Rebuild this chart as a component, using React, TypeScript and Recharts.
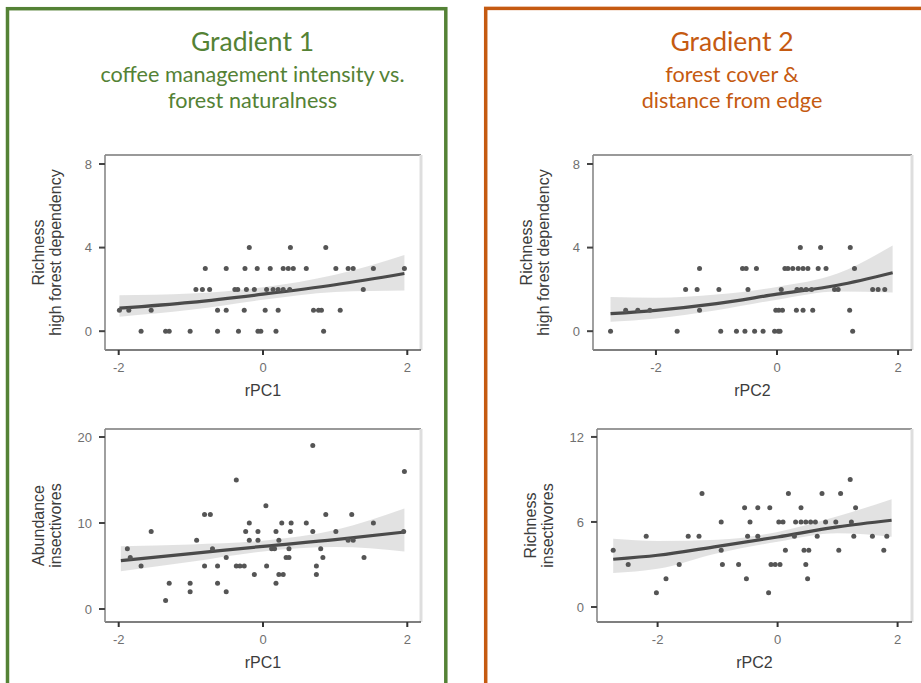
import React from 'react';
import { ComposedChart, Scatter, Line, Area, XAxis, YAxis, ReferenceLine } from 'recharts';

// ---------- Titles ----------
const gradient1Title = 'Gradient 1';
const gradient1Sub = ['coffee management intensity vs.', 'forest naturalness'];
const gradient2Title = 'Gradient 2';
const gradient2Sub = ['forest cover &', 'distance from edge'];

// ---------- Tick labels ----------
const rpcTicks = [-2, 0, 2];
const richHighTicks = [0, 4, 8];
const abundInsTicks = [0, 10, 20];
const richInsTicks = [0, 6, 12];

// ---------- Gradient 1 : Richness high forest dependency vs rPC1 ----------
const g1RichPoints: [number, number][] = [
  [-0.19, 4], [0.38, 4], [0.87, 4],
  [-0.8, 3], [-0.51, 3], [-0.25, 3], [-0.08, 3], [0.1, 3], [0.28, 3], [0.35, 3], [0.42, 3], [0.6, 3],
  [1.01, 3], [1.18, 3], [1.25, 3], [1.53, 3], [1.96, 3],
  [-0.93, 2], [-0.84, 2], [-0.74, 2], [-0.39, 2], [-0.35, 2], [-0.23, 2], [-0.12, 2], [0.05, 2],
  [0.14, 2], [0.21, 2], [0.28, 2], [0.37, 2], [1.39, 2],
  [-1.99, 1], [-1.86, 1], [-1.55, 1], [-0.63, 1], [-0.51, 1], [-0.26, 1], [0.03, 1], [0.21, 1],
  [0.7, 1], [0.77, 1], [0.81, 1], [1.07, 1],
  [-1.69, 0], [-1.35, 0], [-1.3, 0], [-1.01, 0], [-0.63, 0], [-0.34, 0], [-0.07, 0], [-0.03, 0],
  [0.18, 0], [0.84, 0],
];
const g1RichFitX = [-1.99, -1, 0, 1, 1.96];
const g1RichFit = [1.1, 1.38, 1.77, 2.22, 2.76];
const g1RichLo = [0.69, 1.02, 1.5, 1.88, 1.95];
const g1RichHi = [1.72, 1.8, 2.1, 2.7, 3.65];

// ---------- Gradient 1 : Abundance insectivores vs rPC1 ----------
const g1AbundPoints: [number, number][] = [
  [-1.88, 7], [-1.84, 6], [-1.69, 5], [-1.55, 9], [-1.35, 1], [-1.3, 3], [-1.01, 3], [-1.01, 2],
  [-0.92, 8], [-0.81, 11], [-0.73, 11], [-0.81, 5], [-0.7, 7], [-0.63, 5], [-0.63, 3], [-0.51, 2],
  [-0.51, 6], [-0.37, 15], [-0.37, 5], [-0.32, 5], [-0.26, 5], [-0.24, 9], [-0.19, 10], [-0.19, 8],
  [-0.12, 4], [-0.07, 9], [-0.07, 8], [0.04, 12], [0.05, 5], [0.12, 7], [0.16, 7], [0.18, 9],
  [0.18, 3], [0.22, 8], [0.22, 4], [0.28, 4], [0.26, 10], [0.32, 6], [0.36, 6], [0.36, 7],
  [0.38, 9], [0.39, 10], [0.6, 10], [0.69, 19], [0.69, 9], [0.74, 5], [0.74, 4], [0.8, 7],
  [0.83, 6], [0.87, 11], [1.01, 9], [1.18, 8], [1.25, 8], [1.23, 11], [1.4, 6], [1.53, 10],
  [1.96, 16], [1.95, 9],
];
const g1AbundFitX = [-1.97, -1, 0, 1, 1.96];
const g1AbundFit = [5.62, 6.43, 7.29, 8.06, 8.95];
const g1AbundLo = [4.4, 5.5, 6.7, 7.2, 6.7];
const g1AbundHi = [7.3, 7.5, 7.95, 9.2, 11.7];

// ---------- Gradient 2 : Richness high forest dependency vs rPC2 ----------
const g2RichPoints: [number, number][] = [
  [0.385, 4], [0.72, 4], [1.21, 4],
  [-1.28, 3], [-0.57, 3], [-0.51, 3], [-0.34, 3], [0.13, 3], [0.18, 3], [0.26, 3], [0.35, 3],
  [0.43, 3], [0.51, 3], [0.68, 3], [0.81, 3], [1.28, 3],
  [-1.51, 2], [-1.32, 2], [-0.96, 2], [-0.48, 2], [0.07, 2], [0.33, 2], [0.4, 2], [0.48, 2],
  [0.57, 2], [0.95, 2], [1.01, 2], [1.58, 2], [1.67, 2], [1.78, 2],
  [-2.5, 1], [-2.3, 1], [-2.1, 1], [-1.28, 1], [-0.02, 1], [0.03, 1], [0.09, 1], [0.32, 1],
  [0.43, 1], [0.59, 1], [1.2, 1],
  [-2.75, 0], [-1.65, 0], [-0.93, 0], [-0.67, 0], [-0.53, 0], [-0.37, 0], [-0.23, 0], [-0.04, 0],
  [0.02, 0], [0.05, 0], [1.25, 0],
];
const g2RichFitX = [-2.75, -2, -1, 0, 1, 1.91];
const g2RichFit = [0.84, 1.0, 1.32, 1.77, 2.2, 2.8];
const g2RichLo = [0.45, 0.61, 1.0, 1.51, 1.9, 1.85];
const g2RichHi = [1.64, 1.6, 1.75, 2.12, 2.76, 4.1];

// ---------- Gradient 2 : Richness insectivores vs rPC2 ----------
const g2InsPoints: [number, number][] = [
  [-2.74, 4], [-2.49, 3], [-2.19, 5], [-2.02, 1], [-1.86, 2], [-1.64, 3], [-1.49, 5], [-1.31, 5],
  [-1.26, 8], [-0.94, 6], [-0.94, 4], [-0.92, 3], [-0.65, 3], [-0.55, 7], [-0.52, 2], [-0.5, 5],
  [-0.46, 6], [-0.33, 7], [-0.33, 5], [-0.15, 1], [-0.13, 7], [-0.11, 3], [-0.04, 3], [0.04, 3],
  [0.02, 6], [0.09, 6], [0.13, 4], [0.18, 8], [0.28, 5], [0.3, 6], [0.39, 6], [0.47, 6],
  [0.55, 6], [0.63, 6], [0.39, 7], [0.44, 4], [0.52, 4], [0.47, 3], [0.5, 2], [0.66, 5],
  [0.74, 8], [0.8, 6], [0.97, 6], [1.02, 4], [1.05, 8], [1.21, 9], [1.23, 6], [1.27, 5],
  [1.3, 7], [1.58, 5], [1.77, 4], [1.82, 5],
];
const g2InsFitX = [-2.74, -2, -1, 0, 1, 1.9];
const g2InsFit = [3.37, 3.65, 4.28, 4.94, 5.65, 6.12];
const g2InsLo = [2.4, 2.7, 3.8, 4.6, 5.2, 4.95];
const g2InsHi = [4.82, 4.66, 4.75, 5.3, 6.4, 7.6];

const GREEN = '#548235';
const ORANGE = '#C55A11';
const FONT = '"Liberation Sans", Arial, Helvetica, sans-serif';

type PanelProps = {
  box: { x0: number; x1: number; y0: number; y1: number };
  xDomain: [number, number];
  yDomain: [number, number];
  yTicks: number[];
  points: [number, number][];
  fitX: number[];
  fit: number[];
  lo: number[];
  hi: number[];
  xLabel: string;
  yLabel: [string, string];
};

const LEFT_SPACE = 105;
const TOP_SPACE = 15;
const BOTTOM_SPACE = 62;

function Panel(p: PanelProps) {
  const { box } = p;
  const left = box.x0 - LEFT_SPACE;
  const top = box.y0 - TOP_SPACE;
  const width = box.x1 - box.x0 + LEFT_SPACE + 4;
  const height = box.y1 - box.y0 + TOP_SPACE + BOTTOM_SPACE;
  const lineData = p.fitX.map((x, i) => ({ x, fit: p.fit[i], band: [p.lo[i], p.hi[i]] }));
  const pts = p.points.map(([x, y]) => ({ x, y }));

  const yLab = (props: any) => {
    const vb = props.viewBox || {};
    const px = (vb.x ?? 0) + (vb.width ?? 0);
    const cy = (vb.y ?? 0) + (vb.height ?? 0) / 2;
    return (
      <g>
        <text x={px - 61} y={cy} transform={`rotate(-90 ${px - 61} ${cy})`} textAnchor="middle"
          fontSize={16} fill="#3c3c3c" fontFamily={FONT}>{p.yLabel[0]}</text>
        <text x={px - 44} y={cy} transform={`rotate(-90 ${px - 44} ${cy})`} textAnchor="middle"
          fontSize={16} fill="#3c3c3c" fontFamily={FONT}>{p.yLabel[1]}</text>
      </g>
    );
  };
  const xLab = (props: any) => {
    const vb = props.viewBox || {};
    const cx = (vb.x ?? 0) + (vb.width ?? 0) / 2;
    const y = (vb.y ?? 0) + 46;
    return (
      <text x={cx} y={y} textAnchor="middle" fontSize={16} fill="#3c3c3c" fontFamily={FONT}>{p.xLabel}</text>
    );
  };

  return (
    <div style={{ position: 'absolute', left, top }}>
      <ComposedChart width={width} height={height} data={lineData}
        margin={{ top: TOP_SPACE, right: 4, bottom: 2, left: 0 }} style={{ fontFamily: FONT }}>
        <XAxis dataKey="x" type="number" domain={p.xDomain} allowDataOverflow ticks={rpcTicks}
          height={60} tickSize={5} tickMargin={8}
          axisLine={{ stroke: '#555', strokeWidth: 1.6 }}
          tickLine={{ stroke: '#333', strokeWidth: 2 }}
          tick={{ fill: '#707070', fontSize: 13 }}
          label={{ content: xLab }} />
        <YAxis type="number" domain={p.yDomain} allowDataOverflow ticks={p.yTicks}
          width={LEFT_SPACE} tickSize={6} tickMargin={7}
          axisLine={{ stroke: '#888', strokeWidth: 1.6 }}
          tickLine={{ stroke: '#444', strokeWidth: 2 }}
          tick={{ fill: '#707070', fontSize: 13 }}
          label={{ content: yLab }} />
        <ReferenceLine y={p.yDomain[1]} stroke="#999" strokeWidth={2} ifOverflow="visible" />
        <ReferenceLine x={p.xDomain[1]} stroke="#dedede" strokeWidth={3} ifOverflow="visible" />
        <Scatter data={pts} dataKey="y" isAnimationActive={false}
          shape={(s: any) => <circle cx={s.cx} cy={s.cy} r={2.5} fill="#555" />} />
        <Area dataKey="band" type="monotone" stroke="none" fill="#8c8c8c" fillOpacity={0.25}
          dot={false} activeDot={false} isAnimationActive={false} />
        <Line dataKey="fit" type="monotone" stroke="#4a4a4a" strokeWidth={3.2}
          dot={false} activeDot={false} isAnimationActive={false} />
      </ComposedChart>
    </div>
  );
}

export default function App() {
  const titleFont = 'Lato, "Open Sans", sans-serif';
  return (
    <div style={{ position: 'absolute', left: 0, top: 0, width: 921, height: 683, overflow: 'hidden', background: '#fff' }}>
      <svg width={921} height={683} style={{ position: 'absolute', left: 0, top: 0 }}>
        <rect x={7.5} y={8.7} width={438.3} height={720} fill="none" stroke={GREEN} strokeWidth={3.5} />
        <rect x={485.7} y={8.4} width={480} height={720} fill="none" stroke={ORANGE} strokeWidth={3.5} />
        <g fontFamily={titleFont} textAnchor="middle">
          <text x={252.5} y={51} fontSize={26.5} fill={GREEN}>{gradient1Title}</text>
          <text x={252.5} y={82} fontSize={21.6} fill={GREEN}>{gradient1Sub[0]}</text>
          <text x={252.5} y={108} fontSize={21.6} fill={GREEN}>{gradient1Sub[1]}</text>
          <text x={732} y={51} fontSize={26.5} fill={ORANGE}>{gradient2Title}</text>
          <text x={732} y={82} fontSize={21.6} fill={ORANGE}>{gradient2Sub[0]}</text>
          <text x={732} y={108} fontSize={21.6} fill={ORANGE}>{gradient2Sub[1]}</text>
        </g>
      </svg>
      <Panel box={{ x0: 105, x1: 421, y0: 155, y1: 350 }} xDomain={[-2.19, 2.19]} yDomain={[-0.9, 8.43]}
        yTicks={richHighTicks} points={g1RichPoints} fitX={g1RichFitX} fit={g1RichFit} lo={g1RichLo} hi={g1RichHi}
        xLabel="rPC1" yLabel={['Richness', 'high forest dependency']} />
      <Panel box={{ x0: 105, x1: 421, y0: 429, y1: 622 }} xDomain={[-2.19, 2.19]} yDomain={[-1.51, 20.93]}
        yTicks={abundInsTicks} points={g1AbundPoints} fitX={g1AbundFitX} fit={g1AbundFit} lo={g1AbundLo} hi={g1AbundHi}
        xLabel="rPC1" yLabel={['Abundance', 'insectivores']} />
      <Panel box={{ x0: 593, x1: 912, y0: 155, y1: 350 }} xDomain={[-3.04, 2.23]} yDomain={[-0.9, 8.43]}
        yTicks={richHighTicks} points={g2RichPoints} fitX={g2RichFitX} fit={g2RichFit} lo={g2RichLo} hi={g2RichHi}
        xLabel="rPC2" yLabel={['Richness', 'high forest dependency']} />
      <Panel box={{ x0: 597, x1: 912, y0: 429, y1: 622 }} xDomain={[-3.01, 2.24]} yDomain={[-1.06, 12.56]}
        yTicks={richInsTicks} points={g2InsPoints} fitX={g2InsFitX} fit={g2InsFit} lo={g2InsLo} hi={g2InsHi}
        xLabel="rPC2" yLabel={['Richness', 'insectivores']} />
    </div>
  );
}
